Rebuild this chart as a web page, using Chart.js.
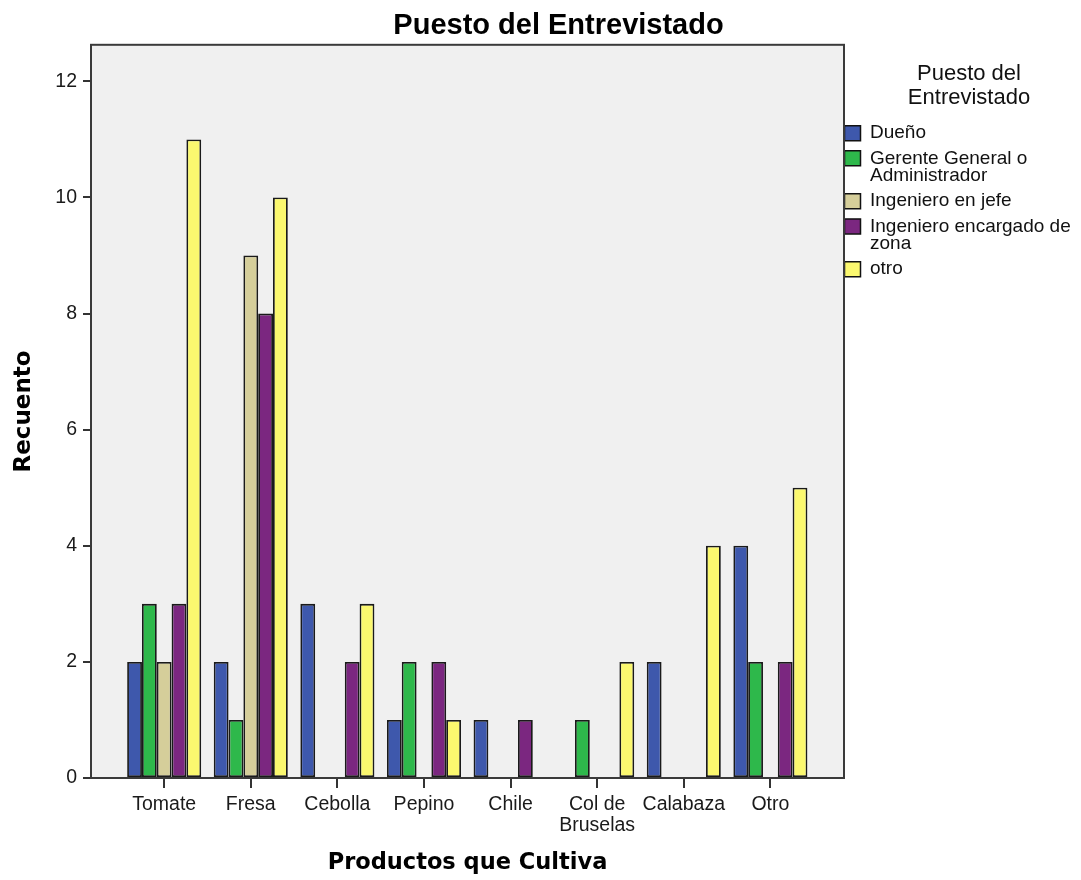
<!DOCTYPE html>
<html>
<head>
<meta charset="utf-8">
<script src="https://cdn.jsdelivr.net/npm/chart.js@4"></script>
<style>
  body { margin: 0; background: #fff; }
  #chart { display: block; }
</style>
</head>
<body>
<canvas id="chart" width="1081" height="880"></canvas>
<script>
// categories along the x axis
const categories = ['Tomate', 'Fresa', 'Cebolla', 'Pepino', 'Chile', 'Col de Bruselas', 'Calabaza', 'Otro'];
const tickLabels = ['Tomate', 'Fresa', 'Cebolla', 'Pepino', 'Chile', ['Col de', 'Bruselas'], 'Calabaza', 'Otro'];

// counts per puesto
const dueno   = [2, 2, 3, 1, 1, 0, 2, 4];
const gerente = [3, 1, 0, 2, 0, 1, 0, 2];
const ingJefe = [2, 9, 0, 0, 0, 0, 0, 0];
const ingZona = [3, 8, 2, 2, 1, 0, 0, 2];
const otro    = [11, 10, 3, 1, 0, 2, 4, 5];

const seriesNames = ['Dueño', 'Gerente General o Administrador', 'Ingeniero en jefe', 'Ingeniero encargado de zona', 'otro'];
const legendLines = [['Dueño'], ['Gerente General o', 'Administrador'], ['Ingeniero en jefe'], ['Ingeniero encargado de', 'zona'], ['otro']];
const colors = ['#3E58AC', '#2EB84B', '#D5CE9A', '#7B2780', '#FBF86F'];

const yTicks = { min: 0, max: 12.63, step: 2 };

const toPoints = arr => arr.map((v, i) => ({ x: i, y: v }));
const allSeries = [dueno, gerente, ingJefe, ingZona, otro];

// grey plot background and the black frame round it
const plotFrame = {
  id: 'plotFrame',
  beforeDraw(chart) {
    const { ctx, chartArea: a } = chart;
    ctx.save();
    ctx.fillStyle = '#F0F0F0';
    ctx.fillRect(a.left, a.top, a.right - a.left, a.bottom - a.top);
    ctx.restore();
  },
  afterDatasetsDraw(chart) {
    const { ctx, chartArea: a } = chart;
    ctx.save();
    ctx.strokeStyle = '#3a3a3a';
    ctx.lineWidth = 2;
    ctx.strokeRect(a.left, a.top, a.right - a.left, a.bottom - a.top);
    ctx.restore();
  },
  afterLayout(chart) {
    // nudge title and legend to where SPSS puts them
    const t = chart.titleBlock;
    t.left += 18; t.right += 18;
    const lg = chart.legend;
    lg.left = chart.chartArea.right - 7;
    lg.width = 264;
    lg.right = lg.left + lg.width;
  }
};

new Chart(document.querySelector('#chart'), {
  type: 'bar',
  data: {
    datasets: allSeries.map((s, i) => ({
      label: seriesNames[i],
      data: toPoints(s),
      backgroundColor: colors[i],
      borderColor: '#1a1a1a',
      borderWidth: 1.8,
      borderSkipped: false
    }))
  },
  options: {
    responsive: false,
    animation: false,
    layout: { padding: 0 },
    datasets: { bar: { categoryPercentage: 0.855, barPercentage: 1 } },
    scales: {
      x: {
        type: 'linear',
        offset: false,
        min: -0.845,
        max: 7.85,
        grid: { offset: false, drawOnChartArea: false, drawTicks: true, tickLength: 10, color: '#333', lineWidth: 2 },
        border: { display: false },
        ticks: {
          stepSize: 1,
          includeBounds: false,
          autoSkip: false,
          maxRotation: 0,
          padding: 7,
          color: '#1a1a1a',
          font: { family: 'Liberation Sans', size: 19.5, lineHeight: 1.03 },
          callback: v => tickLabels[v] ?? ''
        },
        title: {
          display: true,
          text: 'Productos que Cultiva',
          color: '#000',
          font: { family: 'DejaVu Sans', size: 22.5, weight: 'bold', lineHeight: 1.2 },
          padding: { top: 0, bottom: 3 }
        },
        afterFit(scale) { scale.height = 102; }
      },
      y: {
        min: yTicks.min,
        max: yTicks.max,
        grid: { drawOnChartArea: false, drawTicks: true, tickLength: 8, color: '#333', lineWidth: 2 },
        border: { display: false },
        ticks: {
          stepSize: yTicks.step,
          includeBounds: false,
          padding: 6,
          color: '#1a1a1a',
          font: { family: 'Liberation Sans', size: 19.5 }
        },
        title: {
          display: true,
          text: 'Recuento',
          color: '#000',
          font: { family: 'DejaVu Sans', size: 23, weight: 'bold', lineHeight: 1.2 },
          padding: { top: 10, bottom: 0 }
        },
        afterFit(scale) { scale.width = 91; }
      }
    },
    plugins: {
      title: {
        display: true,
        text: 'Puesto del Entrevistado',
        color: '#000',
        font: { family: 'Liberation Sans', size: 29, weight: 'bold', lineHeight: 1.2 },
        padding: { top: 9, bottom: 1 }
      },
      legend: {
        position: 'right',
        align: 'start',
        maxWidth: 237,
        title: {
          display: true,
          text: ['Puesto del', 'Entrevistado'],
          color: '#111',
          font: { family: 'Liberation Sans', size: 22, lineHeight: 1.1 },
          padding: { top: 63, bottom: 29 }
        },
        labels: {
          boxWidth: 16,
          boxHeight: 15,
          padding: 7.5,
          color: '#000',
          font: { family: 'Liberation Sans', size: 19, lineHeight: 0.93 },
          generateLabels: chart => chart.data.datasets.map((ds, i) => ({
            text: legendLines[i],
            fillStyle: ds.backgroundColor,
            strokeStyle: '#111',
            lineWidth: 1.5,
            hidden: false,
            datasetIndex: i
          }))
        }
      },
      tooltip: { enabled: false }
    }
  },
  plugins: [plotFrame]
});
</script>
</body>
</html>
